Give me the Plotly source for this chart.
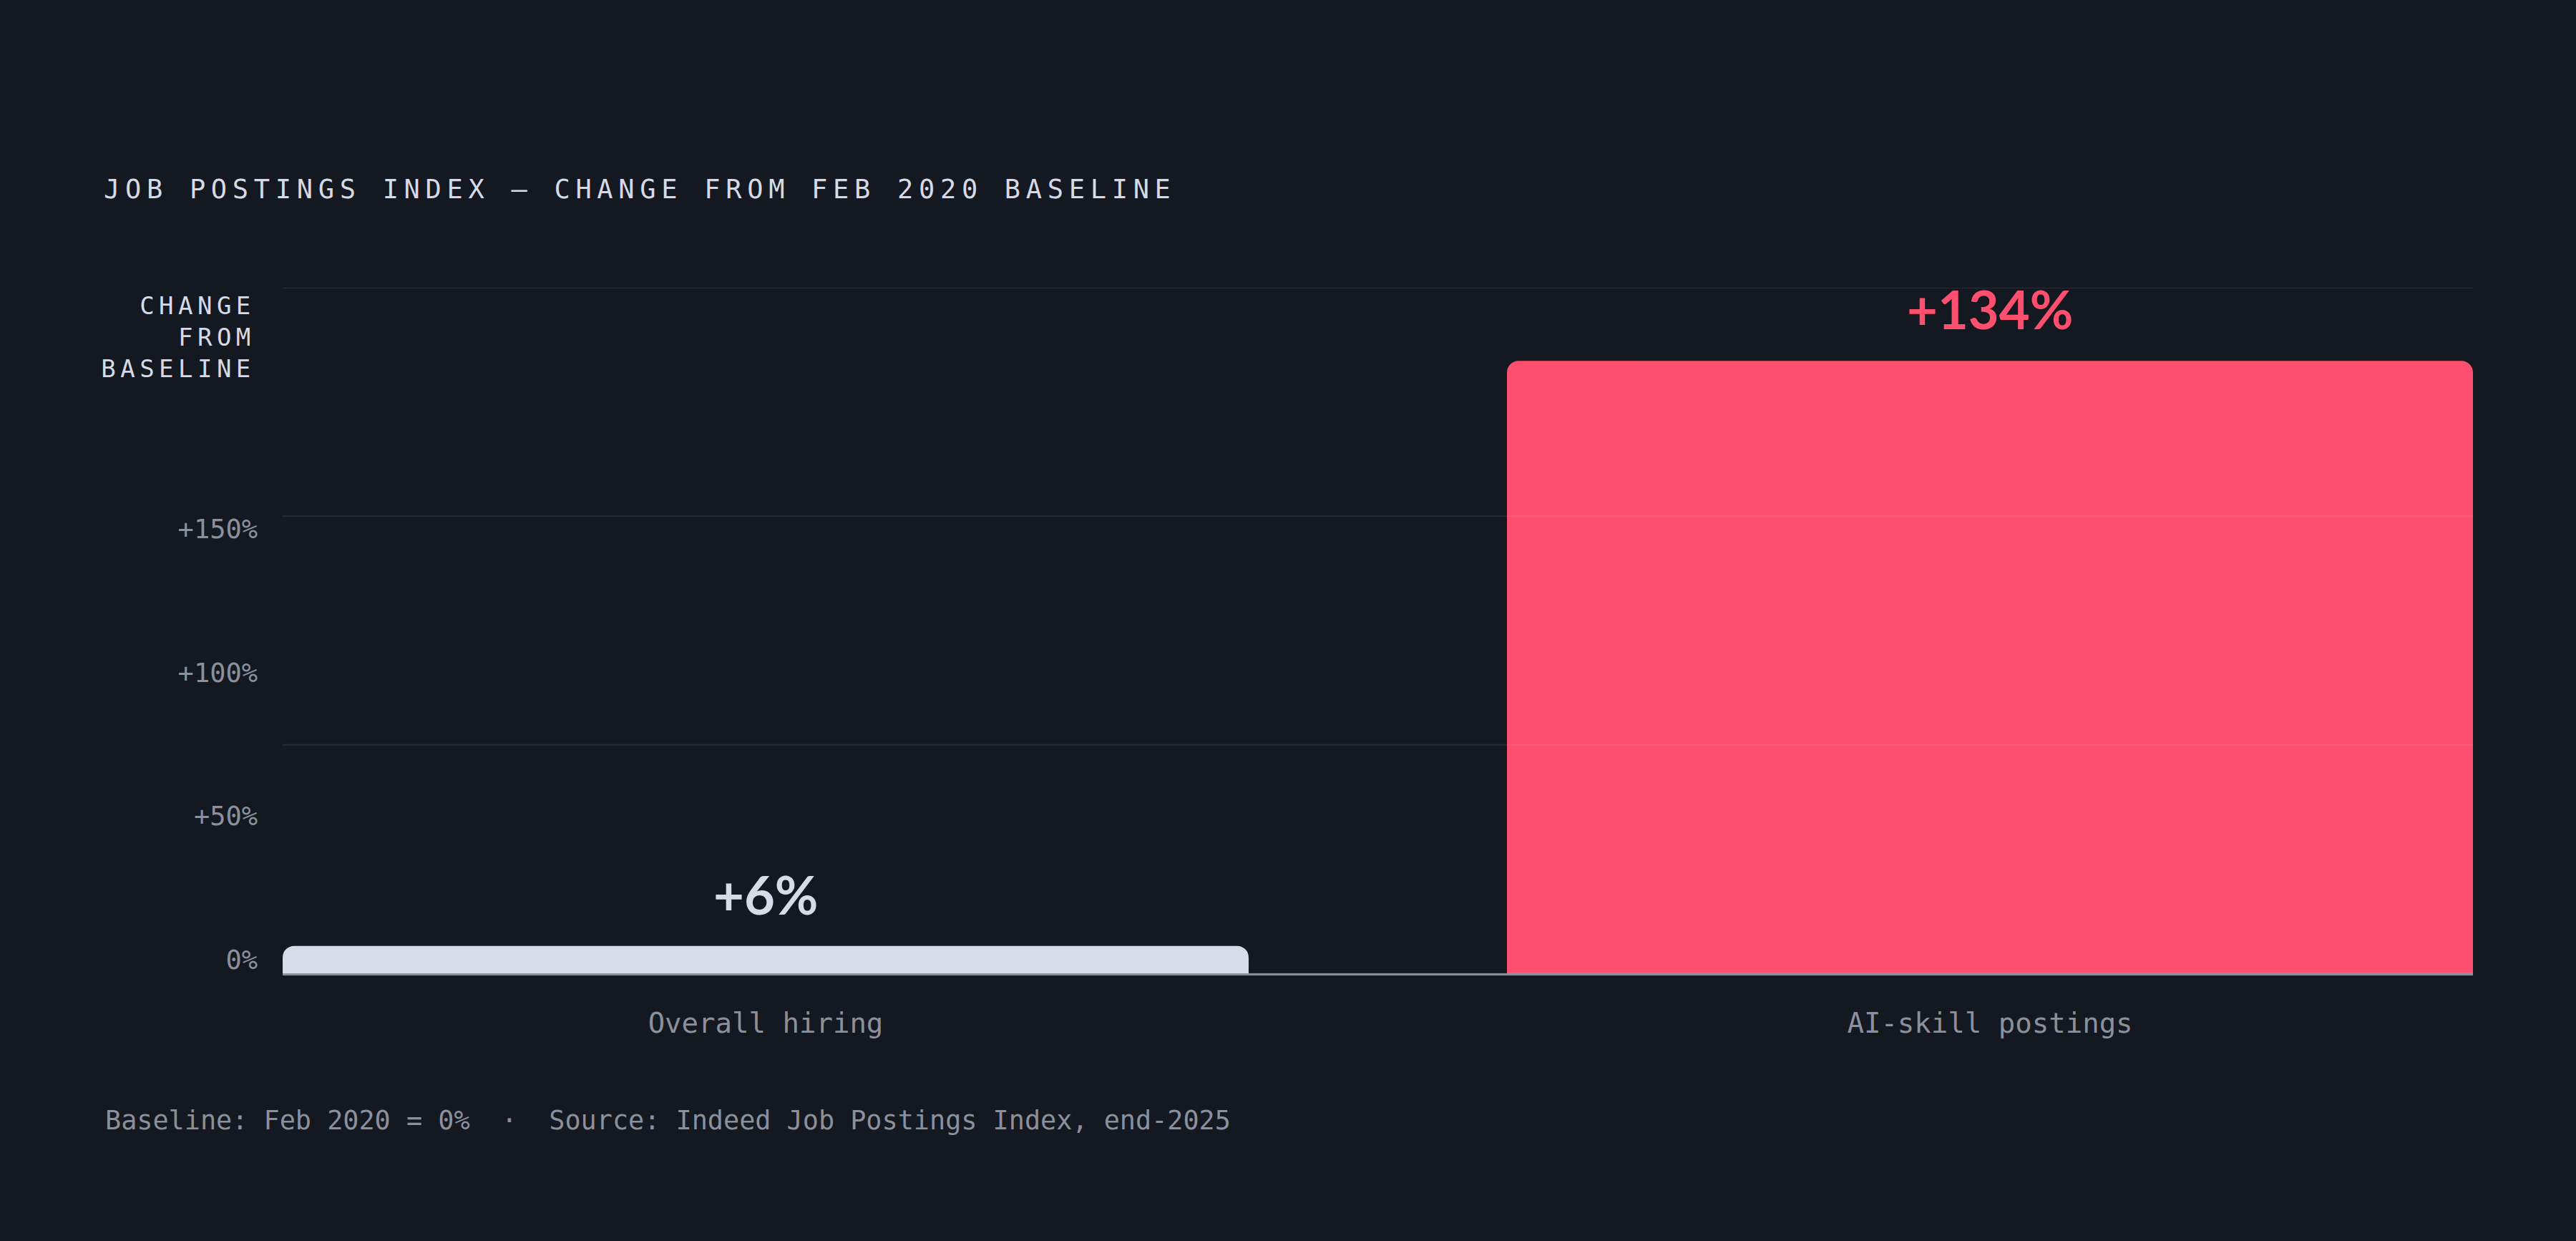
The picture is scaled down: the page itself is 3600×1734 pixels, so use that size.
import plotly.graph_objects as go

# dados do gráfico
categorias = ["Overall hiring", "AI-skill postings"]
variacao = [6, 134]
rotulos = ["+6%", "+134%"]
cores_barras = ["#d5dbe7", "#ff4f6e"]
cores_rotulos = ["#d5dbe7", "#ff4f6e"]

grade_valores = [0, 50, 100, 150]
eixo_valores = [0, 50, 100, 150]
eixo_textos = ["0%", "+50%", "+100%", "+150%"]

titulo = "JOB POSTINGS INDEX — CHANGE FROM FEB 2020 BASELINE"
titulo_eixo = "CHANGE<br>FROM<br>BASELINE"
rodape = "Baseline: Feb 2020 = 0%  ·  Source: Indeed Job Postings Index, end-2025"

FUNDO = "#141820"
MONO = "DejaVu Sans Mono"
CINZA = "#8b909c"
CLARO = "#d5dae6"

fig = go.Figure()
fig.add_trace(go.Bar(
    x=categorias, y=variacao, width=0.789,
    marker=dict(color=cores_barras, line=dict(width=0), cornerradius=16),
    hoverinfo="skip", showlegend=False,
))
# traço vazio só para o plotly desenhar o eixo y2 (rótulos dos ticks)
fig.add_trace(go.Scatter(x=[], y=[], yaxis="y2", hoverinfo="skip", showlegend=False))

# rótulos em cima das barras
for cat, val, txt, cor in zip(categorias, variacao, rotulos, cores_rotulos):
    fig.add_annotation(x=cat, y=val, text=txt, showarrow=False, yanchor="bottom", yshift=26,
                       font=dict(family="Lato", size=74, color=cor, weight=700))

# linhas de grade por cima das barras
for v in grade_valores:
    fig.add_shape(type="line", xref="paper", x0=0, x1=1, yref="y", y0=v, y1=v,
                  line=dict(color="rgba(255,255,255,0.09)", width=2), layer="above")

# título do eixo y e rodapé
fig.add_annotation(text=titulo_eixo, xref="paper", x=0, xanchor="right", xshift=-36,
                   yref="paper", y=0.928, yanchor="middle", align="right", showarrow=False,
                   font=dict(family=MONO, size=34, color=CLARO))
fig.add_annotation(text=rodape, xref="paper", x=-0.0817, xanchor="left",
                   yref="paper", y=-0.215, yanchor="middle", align="left", showarrow=False,
                   font=dict(family=MONO, size=36.8, color=CINZA))

fig.update_layout(
    width=3600, height=1734,
    margin=dict(l=395, r=144, t=402, b=374),
    paper_bgcolor=FUNDO, plot_bgcolor=FUNDO,
    title=dict(text=titulo, x=145 / 3600, xanchor="left", y=0.8478, yanchor="middle",
               font=dict(family=MONO, size=37, color=CLARO)),
    xaxis=dict(type="category", range=[-0.3945, 1.3945], showgrid=False, zeroline=False,
               showline=True, linecolor="#8a8f9b", linewidth=3, ticks="",
               tickfont=dict(family=MONO, size=39, color=CINZA), ticklabelstandoff=33),
    yaxis=dict(range=[0, 150], showgrid=False, zeroline=False, showticklabels=False),
    yaxis2=dict(overlaying="y", side="left", anchor="x", range=[-4.73, 233.9],
                tickvals=eixo_valores, ticktext=eixo_textos, showgrid=False, zeroline=False,
                showline=False, ticks="", ticklabelstandoff=34,
                tickfont=dict(family=MONO, size=37, color=CINZA)),
)

# espaçamento entre letras (o plotly não tem essa opção) e margem zero no body
js = """
document.body.style.margin = '0';
document.body.style.background = '%s';
var gd = document.getElementById('{plot_id}');
gd.querySelectorAll('.gtitle').forEach(function(t){ t.style.letterSpacing = '0.208em'; });
var an = gd.querySelectorAll('.annotation-text');
an.forEach(function(t){ if (t.textContent.indexOf('CHANGE') === 0) { t.style.letterSpacing = '0.19em'; } });
""" % FUNDO

fig.write_html("out.html", config={"displayModeBar": False}, post_script=js)
